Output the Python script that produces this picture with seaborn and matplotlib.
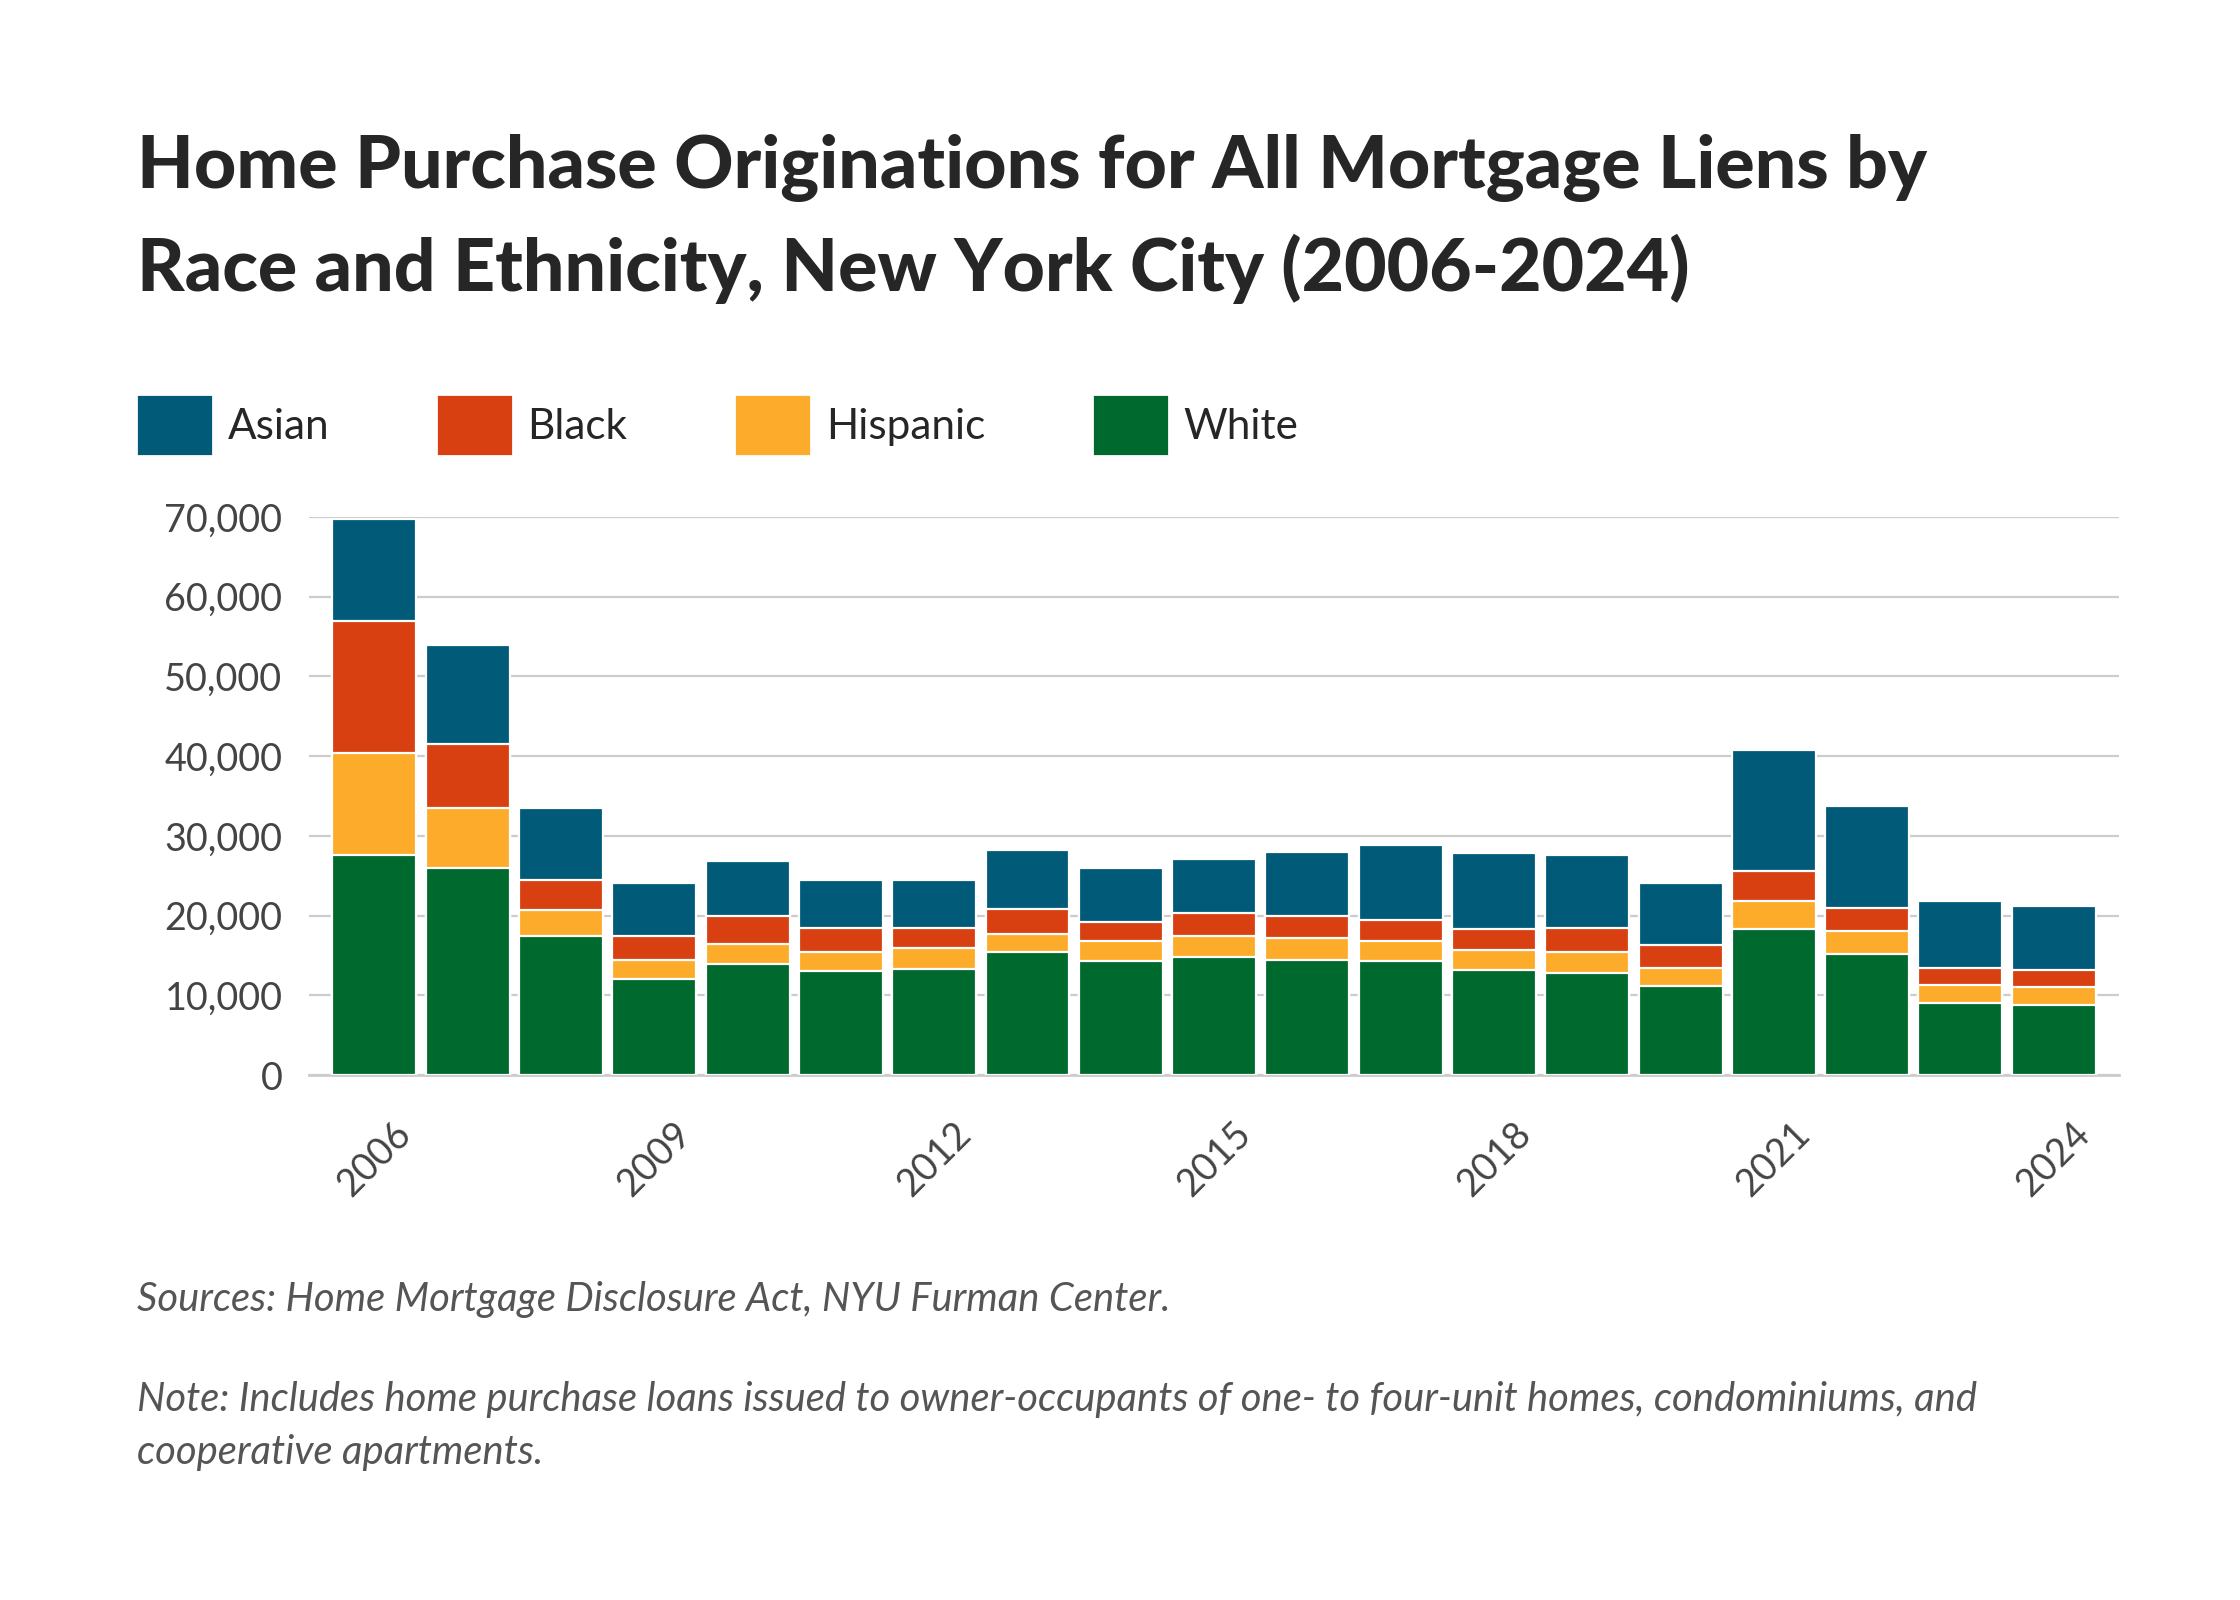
import numpy as np
import pandas as pd
import matplotlib.pyplot as plt
import matplotlib.patches as mpatches
import seaborn as sns

years = list(range(2006, 2025))
white = [27.6, 26.0, 17.4, 12.1, 13.9, 13.0, 13.3, 15.4, 14.3, 14.8, 14.4, 14.3, 13.2, 12.8, 11.2, 18.3, 15.2, 9.1, 8.8]
hispanic = [12.8, 7.5, 3.3, 2.3, 2.6, 2.4, 2.6, 2.3, 2.5, 2.6, 2.8, 2.5, 2.5, 2.7, 2.3, 3.6, 2.9, 2.2, 2.2]
black = [16.5, 8.0, 3.8, 3.0, 3.4, 3.1, 2.6, 3.1, 2.4, 2.9, 2.7, 2.6, 2.6, 3.0, 2.8, 3.7, 2.9, 2.2, 2.2]
asian = [12.8, 12.4, 9.0, 6.7, 7.0, 6.0, 6.0, 7.4, 6.8, 6.8, 8.1, 9.5, 9.5, 9.1, 7.8, 15.2, 12.8, 8.3, 8.0]
series = ["Asian", "Black", "Hispanic", "White"]
colors = {"Asian": "#005a78", "Black": "#d84012", "Hispanic": "#fdab2a", "White": "#006a2e"}

df = pd.DataFrame({"year": years, "White": white, "Hispanic": hispanic, "Black": black, "Asian": asian})
df[["White", "Hispanic", "Black", "Asian"]] *= 1000
df["c_white"] = df["White"]
df["c_hisp"] = df["c_white"] + df["Hispanic"]
df["c_black"] = df["c_hisp"] + df["Black"]
df["c_asian"] = df["c_black"] + df["Asian"]

sns.set_theme(style="white")
plt.rcParams["font.family"] = ["Lato", "DejaVu Sans"]

fig = plt.figure(figsize=(14, 10), dpi=160)
ax = fig.add_axes([0.138, 0.316 + 0.012, 0.808, 0.349])

for col, name in [("c_asian", "Asian"), ("c_black", "Black"), ("c_hisp", "Hispanic"), ("c_white", "White")]:
    sns.barplot(data=df, x="year", y=col, color=colors[name], saturation=1, width=0.9, ax=ax, zorder=3)

ax.set_ylim(0, 70000)
ax.set_xlim(-0.7, len(years) - 0.3)
ax.set_yticks(range(0, 70001, 10000))
ax.set_yticklabels([f"{v:,}" for v in range(0, 70001, 10000)], fontsize=17, color="#444444")
ax.yaxis.grid(True, color="#cccccc", linewidth=1, zorder=0)
ax.set_axisbelow(True)
tick_pos = [i for i, y in enumerate(years) if (y - 2006) % 3 == 0]
ax.set_xticks(tick_pos)
ax.set_xticklabels([str(years[i]) for i in tick_pos], rotation=45, fontsize=17, color="#444444")
ax.tick_params(axis="x", pad=18, length=0)
ax.tick_params(axis="y", length=0, pad=12)
ax.set_xlabel("")
ax.set_ylabel("")
for s in ["top", "right", "left"]:
    ax.spines[s].set_visible(False)
ax.spines["bottom"].set_color("#cccccc")

fig.text(0.061, 0.895, "Home Purchase Originations for All Mortgage Liens by", fontsize=33, fontweight="black", va="center")
fig.text(0.061, 0.832, "Race and Ethnicity, New York City (2006-2024)", fontsize=33, fontweight="black", va="center")

handles = [mpatches.Patch(color=colors[s], label=s) for s in series]
fig.legend(handles=handles, loc="center left", bbox_to_anchor=(0.045, 0.734), ncol=4, frameon=False,
           fontsize=19, handlelength=1.7, handleheight=1.7, columnspacing=2.6, handletextpad=0.4)

fig.text(0.061, 0.175 + 0.013, "Sources: Home Mortgage Disclosure Act, NYU Furman Center.", fontsize=18, style="italic", color="#555555", va="center")
fig.text(0.061, 0.110 + 0.015, "Note: Includes home purchase loans issued to owner-occupants of one- to four-unit homes, condominiums, and",
         fontsize=18, style="italic", color="#555555", va="center")
fig.text(0.061, 0.077 + 0.015, "cooperative apartments.", fontsize=18, style="italic", color="#555555", va="center")

fig.savefig("out.png", dpi=160, facecolor="white")
